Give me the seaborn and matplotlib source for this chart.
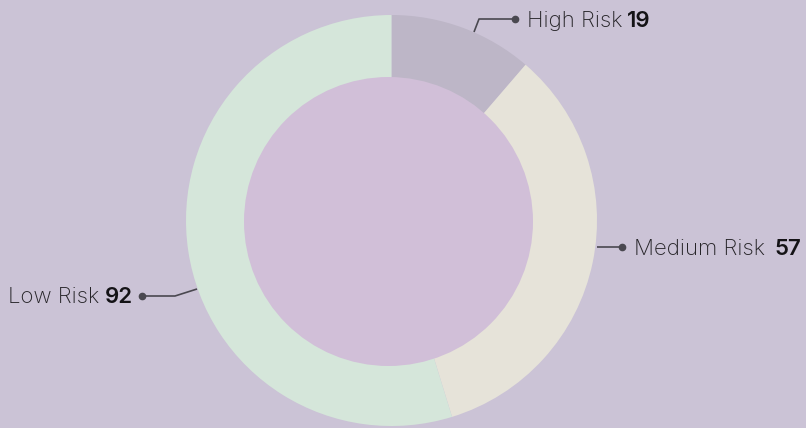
import matplotlib
matplotlib.use("Agg")
import matplotlib.pyplot as plt
import seaborn as sns

# data
labels = ["High Risk", "Medium Risk", "Low Risk"]
counts = [19, 57, 92]

colors = ["#bdb6c7", "#e6e3d9", "#d5e6da"]
bg = "#cbc3d6"
hole = "#d1bfd8"
ink = "#262428"

sns.set_style("white")
plt.rcParams["font.family"] = ["Inter", "DejaVu Sans"]

W, H = 806, 428
fig = plt.figure(figsize=(W / 100, H / 100), dpi=100, facecolor=bg)
ax = fig.add_axes([0, 0, 1, 1])
ax.set_facecolor(bg)

cx, cy = 391.5, H - 220.5
ax.pie(counts, colors=colors, startangle=90, counterclock=False,
       radius=205.5, center=(cx, cy), wedgeprops=dict(linewidth=0))
ax.add_patch(plt.Circle((388.5, H - 221.5), 144.5, color=hole, lw=0))
ax.set_xlim(0, W)
ax.set_ylim(0, H)
ax.set_aspect("equal")
ax.axis("off")

# leader lines (pixel coords, y from top), label baseline, side, gap to number
leaders = [
    ([(474, 32), (479, 19), (515, 19)], 27, "right", 4),
    ([(597, 247), (622, 247)], 255, "right", 10),
    ([(197, 289), (175, 296), (142, 296)], 303, "left", 6),
]

fig.canvas.draw()
renderer = fig.canvas.get_renderer()
fs = 16
for (pts, base, side, gap), lab, n in zip(leaders, labels, counts):
    xs = [p[0] for p in pts]
    ys = [H - p[1] for p in pts]
    ax.plot(xs, ys, color="#4a4850", lw=1.2, solid_capstyle="butt")
    ax.plot(xs[-1], ys[-1], "o", color="#4a4850", ms=4.5)
    yb = H - base
    if side == "right":
        t = ax.text(xs[-1] + 12, yb, lab, ha="left", va="baseline",
                    fontsize=fs, fontweight="light", color=ink)
        bb = t.get_window_extent(renderer)
        ax.text(bb.x1 + gap, yb, str(n), ha="left", va="baseline",
                fontsize=fs, fontweight="semibold", color="#141316")
    else:
        t = ax.text(xs[-1] - 9, yb, str(n), ha="right", va="baseline",
                    fontsize=fs, fontweight="semibold", color="#141316")
        bb = t.get_window_extent(renderer)
        ax.text(bb.x0 - gap, yb, lab, ha="right", va="baseline",
                fontsize=fs, fontweight="light", color=ink)

fig.savefig("out.png", dpi=100, facecolor=bg)
